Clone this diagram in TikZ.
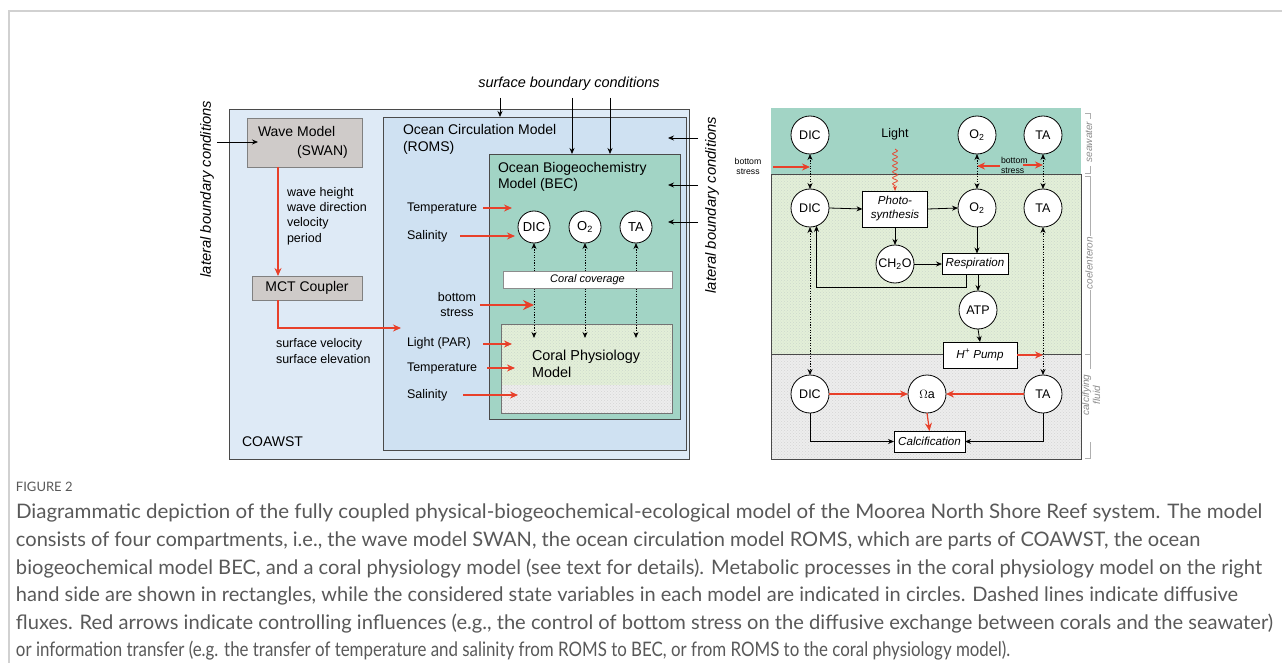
\documentclass[tikz,border=0pt]{standalone}
\usepackage{fontspec}
\usepackage{graphicx}
\setmainfont{Liberation Sans}
\newfontfamily\capfont{Lato}
\usetikzlibrary{arrows.meta,patterns,decorations.pathmorphing,calc}
\definecolor{outerblue}{HTML}{DEEAF6}
\definecolor{romsblue}{HTML}{CFE1F2}
\definecolor{bgteal}{HTML}{A2D4C5}
\definecolor{wavegray}{HTML}{CFCBC9}
\definecolor{lgreen}{HTML}{E3EFD8}
\definecolor{lgray}{HTML}{EDEDED}
\definecolor{arrred}{HTML}{E8402A}
\definecolor{boxline}{HTML}{4A4A4A}
\definecolor{capgray}{HTML}{595959}
\definecolor{brgray}{HTML}{8C8C8C}
\newcommand{\capfit}[2]{\resizebox{#1}{\height}{#2}}
\begin{document}
\begin{tikzpicture}[x=1pt,y=-1pt,
  every node/.style={inner sep=0pt, outer sep=0pt},
  region/.style={draw=boxline, line width=0.8pt, anchor=north west, inner sep=0pt},
  lbl/.style={anchor=west, font=\fontsize{12.5}{14}\selectfont},
  ttl/.style={anchor=west, font=\fontsize{14}{17}\selectfont},
  circL/.style={circle, draw=black, line width=0.8pt, fill=white, minimum size=32pt, font=\fontsize{13}{15}\selectfont},
  circR/.style={circle, draw=black, line width=0.8pt, fill=white, minimum size=38pt, font=\fontsize{12.5}{14}\selectfont},
  proc/.style={draw=black, line width=0.8pt, fill=white, font=\fontsize{11.6}{14}\selectfont\itshape, align=center},
  blk/.style={line width=0.8pt, -{Stealth[length=6pt,width=5pt]}},
  redarr/.style={draw=arrred, line width=1.2pt, -{Stealth[length=8pt,width=7pt]}},
  dots2/.style={line width=0.8pt, dash pattern=on 1.2pt off 1.4pt, {Stealth[length=6pt,width=5pt]}-{Stealth[length=6pt,width=5pt]}},
  brk/.style={draw=brgray!70, line width=0.6pt},
  brlbl/.style={rotate=90, font=\fontsize{10}{11}\selectfont\itshape, text=brgray, align=center},
  capl/.style={anchor=west, font=\capfont\fontsize{20}{24}\selectfont, text=capgray},
]
\useasboundingbox (0,0) rectangle (1282,663);
\fill[white] (0,0) rectangle (1282,663);
\draw[black!18, line width=1.5pt] (9,663) -- (9,11) -- (1282,11);

% ---------------- left diagram ----------------
\node[region, fill=outerblue, minimum width=460pt, minimum height=350pt] (coawst) at (229,109) {};
\node[region, fill=romsblue, minimum width=303pt, minimum height=333pt] (roms) at (383,117) {};
\node[region, fill=bgteal, minimum width=191pt, minimum height=265pt] (bec) at (489,154) {};

\node[region, draw=black!50, fill=wavegray, minimum width=115pt, minimum height=49pt] (wave) at (247,118) {};
\node[ttl] (wavet) at (258,131) {Wave Model};
\node[ttl] (swan) at (297,152) {(SWAN)};
\node[region, draw=black!50, fill=wavegray, minimum width=110pt, minimum height=24pt, font=\fontsize{14}{17}\selectfont] (mct) at (252,276) {MCT Coupler};

\node[lbl, align=left, font=\fontsize{12.5}{15.3}\selectfont] (wtx) at (287,216) {wave height\\wave direction\\velocity\\period};
\node[rotate=90, font=\fontsize{14.8}{17}\selectfont\itshape] (latl) at (207,189) {lateral boundary conditions};
\coordinate (la) at (217,142); \coordinate (lb) at (258,142);
\draw[blk] (la) -- (lb);
\coordinate (wx) at (278,0);
\draw[redarr] (wave.south -| wx) -- (mct.north -| wx);
\coordinate (cpin) at (401,328);
\draw[redarr] (mct.south -| wx) |- (cpin);
\node[lbl, align=left, font=\fontsize{12.5}{16}\selectfont] (sv) at (276,351) {surface velocity\\surface elevation};

\node[ttl, align=left] (romst) at (403,139.5) {Ocean Circulation Model\\(ROMS)};
\node[ttl, align=left, font=\fontsize{14}{16}\selectfont] (bect) at (498,177) {Ocean Biogeochemistry\\Model (BEC)};

\node[font=\fontsize{14.5}{17}\selectfont\itshape] (sbc) at (569,84) {surface boundary conditions};
\coordinate (s1) at (500,98); \coordinate (s2) at (572,98); \coordinate (s3) at (610,98);
\draw[blk] (s1) -- (s1 |- roms.north);
\draw[blk] (s2) -- (s2 |- bec.north);
\draw[blk] (s3) -- (s3 |- bec.north);

\coordinate (r1a) at (698,138); \coordinate (r1b) at (668,138);
\coordinate (r2a) at (698,185); \coordinate (r2b) at (668,185);
\coordinate (r3a) at (698,222); \coordinate (r3b) at (668,222);
\draw[blk] (r1a) -- (r1b);
\draw[blk] (r2a) -- (r2b);
\draw[blk] (r3a) -- (r3b);
\node[rotate=90, font=\fontsize{14.8}{17}\selectfont\itshape] (latr) at (712,205) {lateral boundary conditions};

\node[lbl] (temp1) at (407,208) {Temperature};
\node[lbl] (sal1) at (407,236) {Salinity};
\coordinate (t1a) at (483,208); \coordinate (t1b) at (512,208);
\coordinate (s1a) at (460,236); \coordinate (s1b) at (515,236);
\draw[redarr] (t1a) -- (t1b);
\draw[redarr] (s1a) -- (s1b);

\node[circL] (dic1) at (534,227) {DIC};
\node[circL] (o21) at (585,227) {O\textsubscript{2}};
\node[circL] (ta1) at (636,227) {TA};

% coral physiology box
\fill[lgreen] (501,324) rectangle (672,385);
\fill[pattern=crosshatch dots, pattern color=green!25!black!20] (501,324) rectangle (672,385);
\fill[lgray] (501,385) rectangle (672,413);
\fill[pattern=crosshatch dots, pattern color=black!17] (501,385) rectangle (672,413);
\node[region, draw=black!55, minimum width=171pt, minimum height=89pt] (cpm) at (501,324) {};
\node[ttl, align=left, font=\fontsize{14.4}{17}\selectfont] (cpmt) at (532,363.5) {Coral Physiology\\Model};

\coordinate (cpy) at (0,338);
\draw[dots2] (dic1.south) -- (dic1.south |- cpy);
\draw[dots2] (o21.south) -- (o21.south |- cpy);
\draw[dots2] (ta1.south) -- (ta1.south |- cpy);

\node[region, draw=black!45, fill=white, minimum width=169pt, minimum height=17pt, font=\fontsize{11}{13}\selectfont\itshape] (cc) at (503,271) {Coral coverage};

\node[align=center, font=\fontsize{12.5}{15}\selectfont] (bs1) at (457,304.5) {bottom\\stress};
\coordinate (bsa) at (480,305);
\draw[draw=arrred, line width=2pt, -{Stealth[length=11pt,width=10pt]}] (bsa) -- (bsa -| dic1);

\node[lbl] (lpar) at (407,343) {Light (PAR)};
\node[lbl] (temp2) at (407,368) {Temperature};
\node[lbl] (sal2) at (407,395) {Salinity};
\coordinate (p1a) at (483,344); \coordinate (p1b) at (512,344);
\coordinate (p2a) at (487,368); \coordinate (p2b) at (515,368);
\coordinate (p3a) at (463,395); \coordinate (p3b) at (518,395);
\draw[redarr] (p1a) -- (p1b);
\draw[redarr] (p2a) -- (p2b);
\draw[redarr] (p3a) -- (p3b);

\node[ttl] (coawstt) at (242,442) {COAWST};

% ---------------- right diagram ----------------
\fill[bgteal] (771,108) rectangle (1081,174);
\fill[lgreen] (771,174) rectangle (1081,354);
\fill[pattern=crosshatch dots, pattern color=green!25!black!20] (771,174) rectangle (1081,354);
\fill[lgray] (771,354) rectangle (1081,459);
\fill[pattern=crosshatch dots, pattern color=black!17] (771,354) rectangle (1081,459);
\draw[boxline, line width=0.9pt] (771,174) rectangle (1081,459);
\draw[boxline, line width=0.9pt] (771,354) -- (1081,354);

\node[circR] (dtop) at (810,135) {DIC};
\node[circR] (otop) at (977,135) {O\textsubscript{2}};
\node[circR] (ttop) at (1043,135) {TA};
\node[circR] (dmid) at (810,208) {DIC};
\node[circR] (omid) at (977,208) {O\textsubscript{2}};
\node[circR] (tmid) at (1043,208) {TA};
\node[circR] (ch2o) at (895,264) {CH\textsubscript{2}O};
\node[circR] (atp) at (978,310) {ATP};
\node[circR] (dcal) at (810,394) {DIC};
\node[circR] (om) at (927,394) {$\Omega$a};
\node[circR] (tcal) at (1043,394) {TA};

\node[proc, minimum width=65pt, minimum height=36pt] (photo) at (895,209) {Photo-\\synthesis};
\node[proc, minimum width=66pt, minimum height=21pt] (resp) at (975,264) {Respiration};
\node[proc, minimum width=74pt, minimum height=26pt] (pump) at (980,355) {H\textsuperscript{+} Pump};
\node[proc, minimum width=71pt, minimum height=21pt] (calc) at (929.5,441.5) {Calcification};

\node[font=\fontsize{12.5}{14}\selectfont] (light) at (895,134) {Light};
\coordinate (lw) at (895,149);
\draw[arrred, line width=0.8pt, decorate, decoration={snake, amplitude=2.5pt, segment length=6pt, post length=5pt}, -{Stealth[length=5pt,width=4pt]}] (lw) -- (photo.north);

\node[align=center, font=\fontsize{8.7}{10}\selectfont] (bsl) at (748,166) {bottom\\stress};
\node[align=left, anchor=west, font=\fontsize{8.7}{10}\selectfont] (bsr) at (1001,165) {bottom\\stress};
\coordinate (bla) at (773,167); \coordinate (bma) at (1000,166); \coordinate (bra) at (1023,165);
\draw[redarr] (bla) -- (bla -| dtop);
\draw[redarr] (bma) -- (bma -| otop);
\draw[redarr] (bra) -- (bra -| ttop);

\draw[dots2] (dtop.south) -- (dmid.north);
\draw[dots2] (otop.south) -- (omid.north);
\draw[dots2] (ttop.south) -- (tmid.north);
\draw[dots2] (dmid.south) -- (dcal.north);
\draw[dots2] (tmid.south) -- (tcal.north);

\draw[blk] (dmid.east) -- (photo.west);
\draw[blk] (photo.east) -- (omid.west);
\draw[blk] (photo.south) -- (ch2o.north);
\draw[blk] (ch2o.east) -- (resp.west);
\draw[blk] (omid.south) -- (omid.south |- resp.north);
\draw[blk] (atp.north |- resp.south) -- (atp.north);
\coordinate (lpx) at (966,0);
\draw[blk] (resp.south -| lpx) -- ++(0,13) -| (dmid.-70);
\draw[blk] (atp.south) -- (pump.north);
\draw[redarr] (pump.east) -- (pump.east -| tcal);
\draw[redarr] (dcal.east) -- (om.west);
\draw[redarr] (tcal.west) -- (om.east);
\draw[redarr] (om.south) -- (calc.north);
\draw[blk] (dcal.south) |- (calc.west);
\draw[blk] (tcal.south) |- (calc.east);

% brackets
\draw[brk] (1085,113) -- (1090,113) -- (1090,119);
\draw[brk] (1090,166) -- (1090,173) -- (1085,173);
\node[brlbl] (sw) at (1089,142) {seawater};
\draw[brk] (1085,176) -- (1090,176) -- (1090,236);
\draw[brk] (1090,290) -- (1090,369);
\draw[brk] (1085,354) -- (1090,354);
\node[brlbl] (coel) at (1089,263) {coelenteron};
\node[brlbl] (cf) at (1091,395) {calcifying\\fluid};
\draw[brk] (1090,442) -- (1090,458) -- (1085,458);

% ---------------- caption ----------------
\node[anchor=west, font=\capfont\fontsize{13}{15}\selectfont, text=capgray] (fig) at (16,487) {FIGURE 2};
\node[capl] (c1) at (16,513) {\capfit{1246pt}{Diagrammatic depiction of the fully coupled physical-biogeochemical-ecological model of the Moorea North Shore Reef system. The model}};
\node[capl] (c2) at (16,541) {\capfit{1184pt}{consists of four compartments, i.e., the wave model SWAN, the ocean circulation model ROMS, which are parts of COAWST, the ocean}};
\node[capl] (c3) at (16,569) {\capfit{1246pt}{biogeochemical model BEC, and a coral physiology model (see text for details). Metabolic processes in the coral physiology model on the right}};
\node[capl] (c4) at (16,596) {\capfit{1222pt}{hand side are shown in rectangles, while the considered state variables in each model are indicated in circles. Dashed lines indicate diffusive}};
\node[capl] (c5) at (16,624) {\capfit{1257pt}{fluxes. Red arrows indicate controlling influences (e.g., the control of bottom stress on the diffusive exchange between corals and the seawater)}};
\node[capl] (c6) at (16,651) {\capfit{994pt}{or information transfer (e.g. the transfer of temperature and salinity from ROMS to BEC, or from ROMS to the coral physiology model).}};
\end{tikzpicture}
\end{document}
